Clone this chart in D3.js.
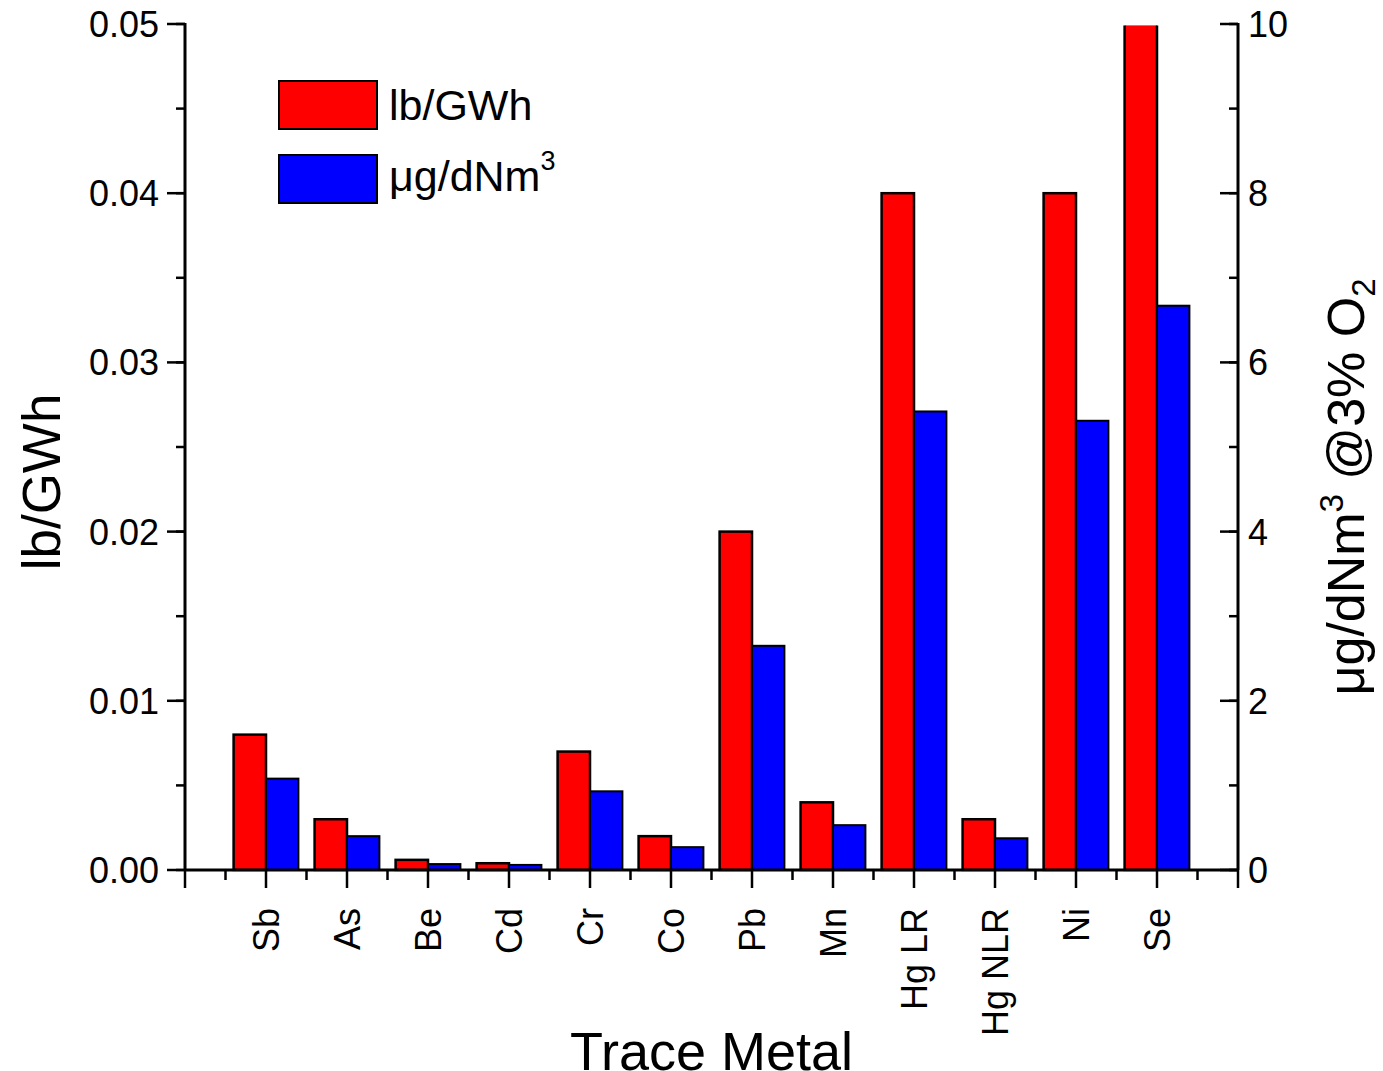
<!DOCTYPE html>
<html><head><meta charset="utf-8">
<script src="https://cdn.jsdelivr.net/npm/d3@7"></script>
<style>
html,body{margin:0;padding:0;background:#fff;}
svg text{font-family:"Liberation Sans",Arial,sans-serif;fill:#000;}
</style></head>
<body>
<svg id="chart" width="1383" height="1071"></svg>
<script>
const categories = ["Sb","As","Be","Cd","Cr","Co","Pb","Mn","Hg LR","Hg NLR","Ni","Se"];
const lbPerGWh = [0.008,0.003,0.0006,0.0004,0.007,0.002,0.02,0.004,0.04,0.003,0.04,0.05];
const ugPerDNm3 = [1.08,0.40,0.07,0.06,0.93,0.27,2.65,0.53,5.42,0.375,5.31,6.67];
const leftTicks = [0,0.01,0.02,0.03,0.04,0.05];
const rightTicks = [0,2,4,6,8,10];
const seriesNames = ["lb/GWh","μg/dNm"];

const svg = d3.select("#chart");
const L = 185, R = 1238, T = 24, B = 870;

const x = d3.scaleLinear().domain([0, categories.length + 1]).range([L, R]);
const yL = d3.scaleLinear().domain([0, 0.05]).range([B, T]);
const yR = d3.scaleLinear().domain([0, 10]).range([B, T]);
const barW = 0.4;

svg.append("defs").append("clipPath").attr("id","clip")
  .append("rect").attr("x", L).attr("y", T + 1.5).attr("width", R - L).attr("height", B - T);

const g = svg.append("g").attr("clip-path","url(#clip)");
g.selectAll("rect.red").data(lbPerGWh).join("rect").attr("class","red")
  .attr("x", (d,i) => x(i + 1 - barW)).attr("width", x(barW) - x(0))
  .attr("y", d => yL(d)).attr("height", d => B - yL(d))
  .attr("fill","#ff0000").attr("stroke","#000").attr("stroke-width",2.5);
g.selectAll("rect.blue").data(ugPerDNm3).join("rect").attr("class","blue")
  .attr("x", (d,i) => x(i + 1)).attr("width", x(barW) - x(0))
  .attr("y", d => yR(d)).attr("height", d => B - yR(d))
  .attr("fill","#0000ff").attr("stroke","#000").attr("stroke-width",2);

const tickFont = 36;
// left axis
const minorL = d3.range(0, 0.0501, 0.005);
const gl = svg.append("g");
gl.selectAll("line.mn").data(minorL).join("line")
  .attr("x1", L - 9).attr("x2", L).attr("y1", d => yL(d)).attr("y2", d => yL(d))
  .attr("stroke","#000").attr("stroke-width",2.5);
gl.selectAll("line.mj").data(leftTicks).join("line")
  .attr("x1", L - 18).attr("x2", L).attr("y1", d => yL(d)).attr("y2", d => yL(d))
  .attr("stroke","#000").attr("stroke-width",2.5);
gl.selectAll("text").data(leftTicks).join("text")
  .attr("x", L - 26).attr("y", d => yL(d)).attr("dy","0.36em")
  .attr("text-anchor","end").attr("font-size", tickFont)
  .text(d => d3.format(".2f")(d));
gl.append("line").attr("x1", L).attr("x2", L).attr("y1", T - 1).attr("y2", B)
  .attr("stroke","#000").attr("stroke-width",3);

// right axis
const minorR = d3.range(0, 10.01, 1);
const gr = svg.append("g");
gr.selectAll("line.mn").data(minorR).join("line")
  .attr("x1", R - 9).attr("x2", R).attr("y1", d => yR(d)).attr("y2", d => yR(d))
  .attr("stroke","#000").attr("stroke-width",2.5);
gr.selectAll("line.mj").data(rightTicks).join("line")
  .attr("x1", R - 18).attr("x2", R).attr("y1", d => yR(d)).attr("y2", d => yR(d))
  .attr("stroke","#000").attr("stroke-width",2.5);
gr.selectAll("text").data(rightTicks).join("text")
  .attr("x", R + 10).attr("y", d => yR(d)).attr("dy","0.36em")
  .attr("text-anchor","start").attr("font-size", tickFont)
  .text(d => d);
gr.append("line").attr("x1", R).attr("x2", R).attr("y1", T - 1).attr("y2", B)
  .attr("stroke","#000").attr("stroke-width",3);

// bottom axis
const gb = svg.append("g");
const majorX = d3.range(0, categories.length + 2, 1);
const minorX = d3.range(0.5, categories.length + 1, 1);
gb.selectAll("line.mn").data(minorX).join("line")
  .attr("x1", d => x(d)).attr("x2", d => x(d)).attr("y1", B).attr("y2", B + 10)
  .attr("stroke","#000").attr("stroke-width",2.5);
gb.selectAll("line.mj").data(majorX).join("line")
  .attr("x1", d => x(d)).attr("x2", d => x(d)).attr("y1", B).attr("y2", B + 18)
  .attr("stroke","#000").attr("stroke-width",2.5);
gb.append("line").attr("x1", L - 1).attr("x2", R + 1).attr("y1", B).attr("y2", B)
  .attr("stroke","#000").attr("stroke-width",3);
gb.selectAll("text").data(categories).join("text")
  .attr("transform", (d,i) => `translate(${x(i+1)},${B + 38}) rotate(-90)`)
  .attr("dy","0.36em").attr("text-anchor","end").attr("font-size", 36)
  .text(d => d);

// axis titles
svg.append("text").attr("transform", `translate(60,482) rotate(-90)`)
  .attr("text-anchor","middle").attr("font-size", 53).text("lb/GWh");
svg.append("text").attr("x", (L+R)/2).attr("y", 1070)
  .attr("text-anchor","middle").attr("font-size", 54).text("Trace Metal");
const rt = svg.append("text").attr("transform", `translate(1364,487) rotate(-90)`)
  .attr("text-anchor","middle").attr("font-size", 52);
rt.append("tspan").text("μg/dNm");
rt.append("tspan").attr("font-size", 33).attr("dy", -21).text("3");
rt.append("tspan").attr("dy", 21).text(" @3% O");
rt.append("tspan").attr("font-size", 33).attr("dy", 11).text("2");

// legend
const leg = svg.append("g");
const legColors = ["#ff0000","#0000ff"];
leg.selectAll("rect").data(seriesNames).join("rect")
  .attr("x", 279).attr("y", (d,i) => 81 + i * 74).attr("width", 98).attr("height", 48)
  .attr("fill", (d,i) => legColors[i]).attr("stroke","#000").attr("stroke-width",2);
const lt = leg.selectAll("text").data(seriesNames).join("text")
  .attr("x", 389).attr("y", (d,i) => 120 + i * 71).attr("font-size", 43);
lt.append("tspan").text(d => d);
lt.filter((d,i) => i === 1).append("tspan").attr("font-size", 27).attr("dy", -21).text("3");
</script>
</body></html>
